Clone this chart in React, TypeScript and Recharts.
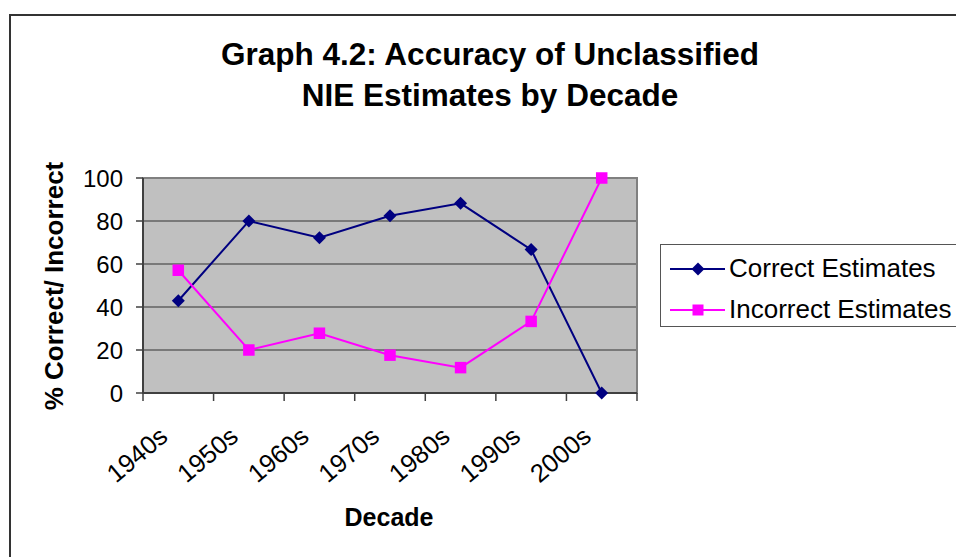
import { LineChart, Line, XAxis, YAxis, CartesianGrid, ReferenceArea } from 'recharts';

const decades = ['1940s', '1950s', '1960s', '1970s', '1980s', '1990s', '2000s'];
const correct = [42.9, 80, 72.2, 82.4, 88.2, 66.7, 0];
const incorrect = [57.1, 20, 27.8, 17.6, 11.8, 33.3, 100];
const yTicks = [0, 20, 40, 60, 80, 100];

const FONT = '"Liberation Sans", Arial, sans-serif';
const NAVY = '#000080';
const MAGENTA = '#FF00FF';
const AXIS = '#404040';

const W = 956;
const H = 557;
const M = { top: 178, right: 319, bottom: 163, left: 0 };
const Y_AXIS_W = 143;
const BAND = (W - M.left - M.right - Y_AXIS_W) / decades.length;

const data = decades.map((d, i) => ({ decade: d, correct: correct[i], incorrect: incorrect[i] }));

const Diamond = (props: any) => {
  const { cx, cy } = props;
  if (cx == null || cy == null) return null;
  const r = 6.5;
  return <polygon points={`${cx},${cy - r} ${cx + r},${cy} ${cx},${cy + r} ${cx - r},${cy}`} fill={NAVY} stroke="none" />;
};

const Square = (props: any) => {
  const { cx, cy } = props;
  if (cx == null || cy == null) return null;
  const s = 11.5;
  return <rect x={cx - s / 2} y={cy - s / 2} width={s} height={s} fill={MAGENTA} stroke="none" />;
};

// category label plus the tick marks at the band edges (Excel style)
const DecadeTick = ({ x, y, payload, index }: any) => {
  const tx = x - 9;
  const ty = y + 46;
  const left = x - BAND / 2;
  const right = x + BAND / 2;
  return (
    <g>
      <line x1={left} y1={y} x2={left} y2={y + 8} stroke={AXIS} strokeWidth={1.5} />
      {index === decades.length - 1 && <line x1={right} y1={y} x2={right} y2={y + 8} stroke={AXIS} strokeWidth={1.5} />}
      <text x={tx} y={ty} textAnchor="end" transform={`rotate(-40, ${tx}, ${ty})`}
        fontFamily={FONT} fontSize={25.5} fill="#000">
        {payload.value}
      </text>
    </g>
  );
};

const legendRows = [
  { name: 'Correct Estimates', color: NAVY, shape: 'diamond' },
  { name: 'Incorrect Estimates', color: MAGENTA, shape: 'square' },
];

const LegendBox = () => (
  <div style={{ position: 'absolute', left: 660, top: 244, width: 320, height: 83, border: '1px solid #555', boxSizing: 'border-box', background: '#fff', fontFamily: FONT, fontSize: 26, color: '#000', paddingTop: 6 }}>
    {legendRows.map(r => (
      <div key={r.name} style={{ display: 'flex', alignItems: 'center', height: 35, marginTop: r.shape === 'square' ? 6 : 0 }}>
        <svg width={68} height={20} style={{ flex: 'none' }}>
          <line x1={9} y1={10} x2={64} y2={10} stroke={r.color} strokeWidth={2} />
          {r.shape === 'diamond'
            ? <polygon points="37,3.5 43.5,10 37,16.5 30.5,10" fill={r.color} />
            : <rect x={31.5} y={4.5} width={11} height={11} fill={r.color} />}
        </svg>
        <span style={{ whiteSpace: 'nowrap', lineHeight: '35px' }}>{r.name}</span>
      </div>
    ))}
  </div>
);

export default function App() {
  return (
    <div style={{ position: 'fixed', left: 0, top: 0, width: W, height: H, overflow: 'hidden', background: '#fff' }}>
      <div style={{ position: 'absolute', left: 9, top: 14, width: 1000, height: 600, border: '2px solid #333' }} />
      <svg width={W} height={H} style={{ position: 'absolute', left: 0, top: 0 }}>
        <text x={490} y={65} textAnchor="middle" fontFamily={FONT} fontWeight="bold" fontSize={31.5}>Graph 4.2: Accuracy of Unclassified</text>
        <text x={490} y={106} textAnchor="middle" fontFamily={FONT} fontWeight="bold" fontSize={31.5}>NIE Estimates by Decade</text>
        <text x={389} y={526} textAnchor="middle" fontFamily={FONT} fontWeight="bold" fontSize={25}>Decade</text>
        <text x={0} y={0} textAnchor="middle" fontFamily={FONT} fontWeight="bold" fontSize={26}
          transform="translate(63, 286) rotate(-90)">% Correct/ Incorrect</text>
      </svg>
      <div style={{ position: 'absolute', left: 0, top: 0 }}>
        <LineChart width={W} height={H} data={data} margin={M}>
          <CartesianGrid horizontal vertical={false} fill="#C0C0C0" stroke="#333" strokeWidth={1} />
          <ReferenceArea x1="1940s" x2="2000s" y1={0} y2={100} fill="none" stroke="#808080" strokeWidth={2} ifOverflow="visible" />
          <XAxis dataKey="decade" scale="band" height={1} tickSize={0} tickMargin={0}
            tickLine={false} axisLine={{ stroke: AXIS, strokeWidth: 2 }} interval={0} tick={<DecadeTick />} />
          <YAxis domain={[0, 100]} ticks={yTicks} interval={0} width={Y_AXIS_W} tickSize={7} tickMargin={13}
            tick={{ fontFamily: FONT, fontSize: 24, fill: '#000' }}
            tickLine={{ stroke: AXIS, strokeWidth: 1.5 }} axisLine={{ stroke: AXIS, strokeWidth: 2 }} />
          <Line dataKey="correct" name="Correct Estimates" stroke={NAVY} strokeWidth={2}
            dot={<Diamond />} activeDot={false} isAnimationActive={false} />
          <Line dataKey="incorrect" name="Incorrect Estimates" stroke={MAGENTA} strokeWidth={2}
            dot={<Square />} activeDot={false} isAnimationActive={false} />
        </LineChart>
      </div>
      <LegendBox />
    </div>
  );
}
